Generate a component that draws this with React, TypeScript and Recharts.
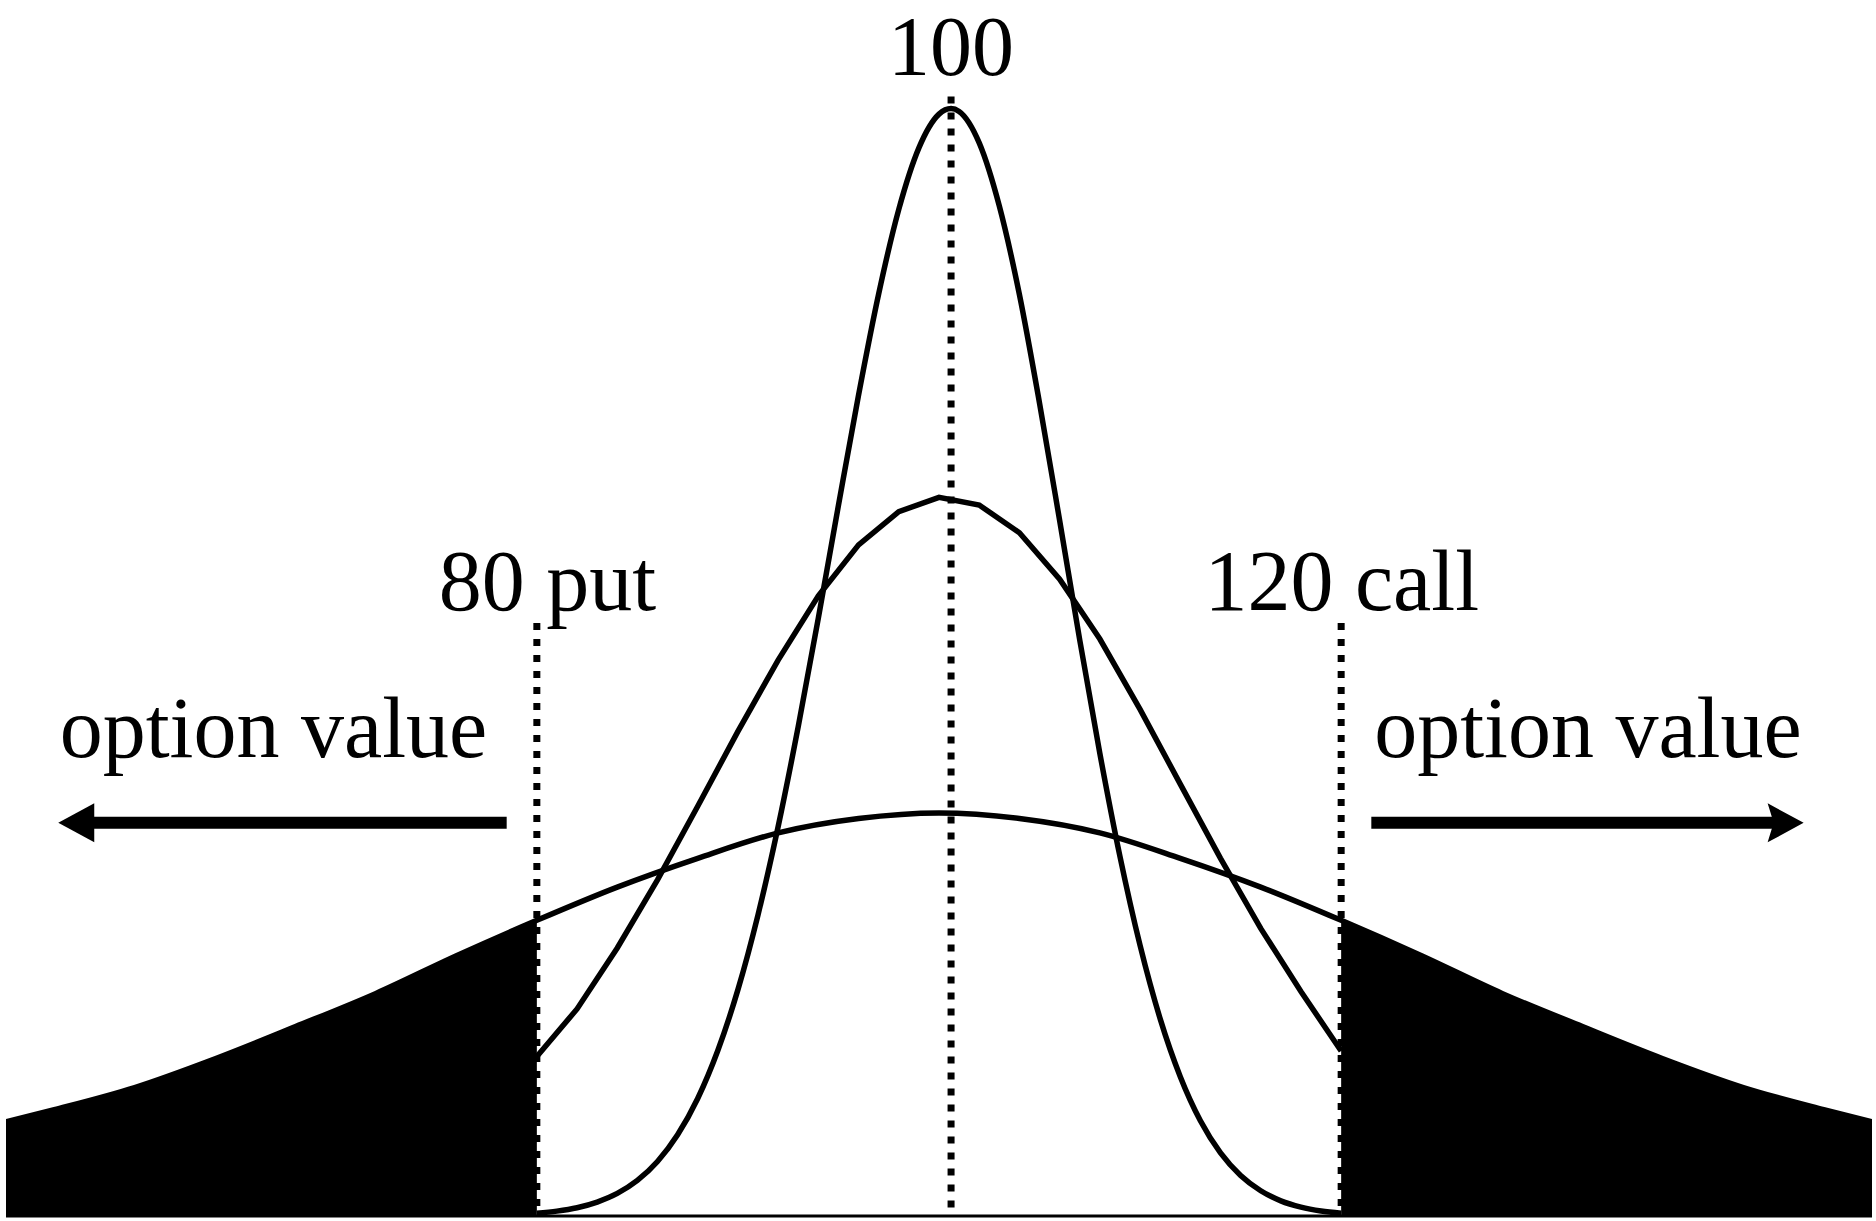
import React from "react";
import { ComposedChart, Line, Area, XAxis, YAxis, ReferenceLine, ReferenceDot } from "recharts";

// Wide distribution (shaded tails beyond the strikes)
const wideX = [53.6, 56, 60, 64, 68, 72, 76, 80, 84, 88, 92, 96, 100, 104, 108, 112, 116, 120, 124, 128, 132, 136, 140, 144, 146.4];
const wideY = [0.085, 0.096, 0.116, 0.142, 0.171, 0.201, 0.235, 0.267, 0.297, 0.323, 0.346, 0.359, 0.364, 0.359, 0.346, 0.323, 0.297, 0.267, 0.235, 0.201, 0.171, 0.142, 0.116, 0.096, 0.085];

// Medium distribution (drawn between the strikes)
const midX = [80, 82, 84, 86, 88, 90, 92, 94, 96, 98, 100, 102, 104, 106, 108, 110, 112, 114, 116, 118, 120];
const midY = [0.144, 0.187, 0.242, 0.3035, 0.37, 0.4376, 0.502, 0.56, 0.606, 0.636, 0.649, 0.642, 0.617, 0.575, 0.521, 0.4575, 0.39, 0.323, 0.2597, 0.2027, 0.149];

// Narrow distribution
const narrowX = [80, 81, 82, 83, 84, 85, 86, 87, 88, 89, 90, 91, 92, 93, 94, 95, 96, 97, 98, 99, 100, 100.6, 101, 102, 103, 104, 105, 106, 107, 108, 109, 110, 111, 112, 113, 114, 115, 116, 117, 118, 119, 120];
const narrowY = [0.0025, 0.0044, 0.0075, 0.0126, 0.0204, 0.0321, 0.0492, 0.0733, 0.1061, 0.1494, 0.2044, 0.272, 0.3516, 0.442, 0.54, 0.6418, 0.7414, 0.8327, 0.909, 0.9645, 0.995, 1.0, 0.9974, 0.969, 0.912, 0.832, 0.734, 0.628, 0.52, 0.4176, 0.3246, 0.2443, 0.178, 0.1258, 0.086, 0.057, 0.0366, 0.0228, 0.0137, 0.008, 0.0045, 0.0025];

// Strikes / center
const putStrike = 80;
const callStrike = 120;
const centerX = 100.6;
const centerTop = 1.011;
const strikeTop = 0.5355;

// Labels
const centerLabel = "100";
const putLabel = "80 put";
const callLabel = "120 call";
const sideLabel = "option value";

// Arrows (data coords)
const leftArrow = { from: 78.5, tip: 56.2, y: 0.355 };
const rightArrow = { from: 121.5, tip: 143.0, y: 0.355 };

type Row = { x: number; wide?: number | null; tail?: number | null; mid?: number | null; narrow?: number | null };

function buildRows(): Row[] {
  const map = new Map<number, Row>();
  const get = (x: number) => {
    if (!map.has(x)) map.set(x, { x, wide: null, tail: null, mid: null, narrow: null });
    return map.get(x)!;
  };
  wideX.forEach((x, i) => {
    const r = get(x);
    r.wide = wideY[i];
    if (x <= putStrike || x >= callStrike) r.tail = wideY[i];
  });
  midX.forEach((x, i) => (get(x).mid = midY[i]));
  narrowX.forEach((x, i) => (get(x).narrow = narrowY[i]));
  return Array.from(map.values()).sort((a, b) => a.x - b.x);
}

const rows = buildRows();
const FONT = "'Liberation Serif', 'Times New Roman', serif";
const FS = 86;
const SW = 5.5;

const textShape = (txt: string, anchor: "start" | "middle" | "end", size: number = FS) => (p: any) => (
  <text x={p.cx} y={p.cy} textAnchor={anchor} fontFamily={FONT} fontSize={size} fill="#000">
    {txt}
  </text>
);

const headShape = (dir: "left" | "right") => (p: any) => {
  const { cx, cy } = p;
  const pts =
    dir === "left"
      ? `${cx},${cy} ${cx + 36},${cy - 19.5} ${cx + 36},${cy + 19.5}`
      : `${cx},${cy} ${cx - 36},${cy - 19.5} ${cx - 30},${cy} ${cx - 36},${cy + 19.5}`;
  return <polygon points={pts} fill="#000" />;
};

export default function App() {
  return (
    <div style={{ position: "absolute", left: 0, top: 0, width: 1876, height: 1221, background: "#fff" }}>
      <ComposedChart width={1876} height={1221} data={rows} margin={{ top: 20, right: 4, bottom: 5, left: 6 }}>
        <XAxis type="number" dataKey="x" domain={[53.6, 146.4]} hide allowDataOverflow />
        <YAxis type="number" domain={[0, 1.08]} hide allowDataOverflow />
        <Area
          type="monotone"
          dataKey="tail"
          fill="#000"
          fillOpacity={1}
          stroke="none"
          isAnimationActive={false}
          connectNulls={false}
        />
        <Line type="monotone" dataKey="wide" stroke="#000" strokeWidth={SW} dot={false} connectNulls isAnimationActive={false} />
        <Line type="linear" dataKey="mid" stroke="#000" strokeWidth={SW} dot={false} connectNulls isAnimationActive={false} />
        <Line type="monotone" dataKey="narrow" stroke="#000" strokeWidth={SW} dot={false} connectNulls isAnimationActive={false} />
        <ReferenceLine y={0} stroke="#000" strokeWidth={3} />
        <ReferenceLine
          segment={[{ x: centerX, y: centerTop }, { x: centerX, y: 0 }]}
          stroke="#000"
          strokeWidth={7}
          strokeDasharray="7 9"
        />
        <ReferenceLine
          segment={[{ x: putStrike, y: strikeTop }, { x: putStrike, y: 0 }]}
          stroke="#000"
          strokeWidth={7}
          strokeDasharray="7 9"
        />
        <ReferenceLine
          segment={[{ x: callStrike, y: strikeTop }, { x: callStrike, y: 0 }]}
          stroke="#000"
          strokeWidth={7}
          strokeDasharray="7 9"
        />
        <ReferenceLine
          segment={[{ x: leftArrow.from, y: leftArrow.y }, { x: leftArrow.tip + 1.2, y: leftArrow.y }]}
          stroke="#000"
          strokeWidth={12}
        />
        <ReferenceLine
          segment={[{ x: rightArrow.from, y: rightArrow.y }, { x: rightArrow.tip - 1.2, y: rightArrow.y }]}
          stroke="#000"
          strokeWidth={12}
        />
        <ReferenceDot x={leftArrow.tip} y={leftArrow.y} r={0} shape={headShape("left")} />
        <ReferenceDot x={rightArrow.tip} y={rightArrow.y} r={0} shape={headShape("right")} />
        <ReferenceDot x={centerX} y={1.0303} r={0} shape={textShape(centerLabel, "middle", 84)} />
        <ReferenceDot x={75.12} y={0.547} r={0} shape={textShape(putLabel, "start")} />
        <ReferenceDot x={113.2} y={0.547} r={0} shape={textShape(callLabel, "start")} />
        <ReferenceDot x={56.27} y={0.4145} r={0} shape={textShape(sideLabel, "start")} />
        <ReferenceDot x={121.64} y={0.4145} r={0} shape={textShape(sideLabel, "start")} />
      </ComposedChart>
    </div>
  );
}
